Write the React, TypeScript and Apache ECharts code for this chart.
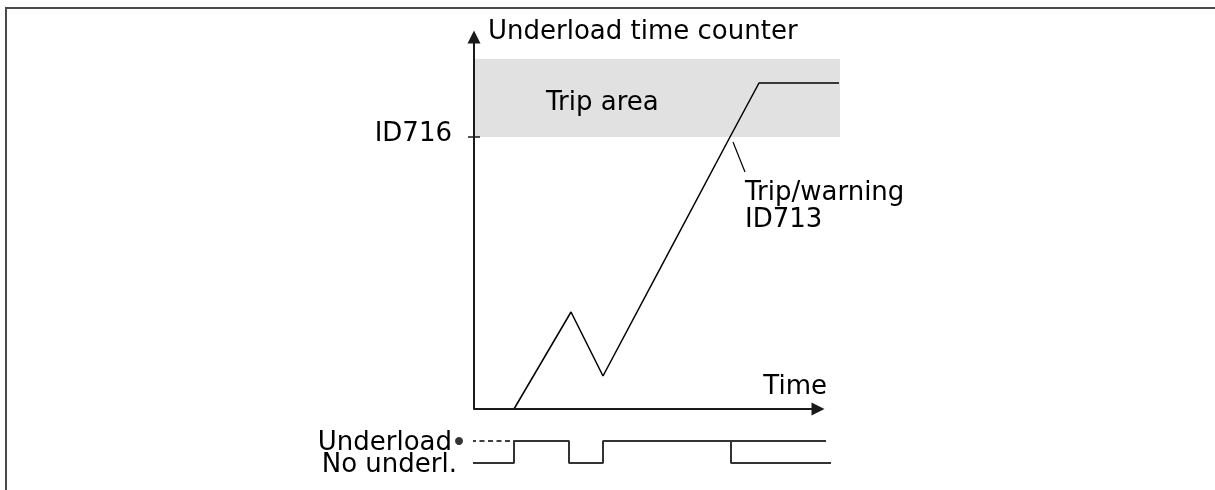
import React, { useEffect, useRef } from 'react';
import * as echarts from 'echarts';

const FONT = '"DejaVu Sans", Verdana, sans-serif';
const FS = 26;

// ---- Data (x: time units, y: counter units) ----
const counterTime = [40, 97, 129, 256, 285, 365];
const counterValue = [0, 97, 33, 272, 326, 326];

const tripLimit = 272; // ID716 level
const tripAreaTop = 350;
const tripTime = 257; // trip / warning moment
const xAxisEnd = 344; // time axis arrow

// Underload signal (1 = underload, 0 = no underload)
const signalTime = [-2, 40, 40, 95, 95, 129, 129, 352];
const signalState = [0, 0, 1, 1, 0, 0, 1, 1];
const afterTripTime = [257, 257, 357];
const afterTripState = [1, 0, 0];
const legendDashTime = [-3, 40];
const legendDashState = [1, 1];
const legendDot = [[-15, 1]];

const yTickLabels = ['ID716'];
const textLabels = {
  yName: 'Underload time counter',
  tripArea: 'Trip area',
  trip: 'Trip/warning\nID713',
  time: 'Time',
  underload: 'Underload',
  noUnderload: 'No underl.',
};

// ---- Axis ranges ----
const X_MAX = 366;
const Y_MAX = 372;

const zip = (a: number[], b: number[]) => a.map((v, i) => [v, b[i]]);

export default function App() {
  const ref = useRef<HTMLDivElement>(null);

  useEffect(() => {
    if (!ref.current) return;
    const chart = echarts.init(ref.current, undefined, { renderer: 'svg' });
    const axisColor = '#1a1a1a';
    const option: any = {
      animation: false,
      textStyle: { fontFamily: FONT },
      grid: [
        { left: 474, top: 37, width: X_MAX, height: Y_MAX },
        { left: 474, top: 441, width: X_MAX, height: 22 },
      ],
      xAxis: [
        { type: 'value', gridIndex: 0, min: 0, max: X_MAX, show: false },
        { type: 'value', gridIndex: 1, min: 0, max: X_MAX, show: false },
      ],
      yAxis: [
        {
          type: 'value', gridIndex: 0, min: 0, max: Y_MAX, position: 'left', z: 5,
          name: textLabels.yName, nameLocation: 'end', nameGap: 7,
          nameTextStyle: {
            fontSize: FS, color: '#000', align: 'left', verticalAlign: 'middle',
            padding: [0, 0, 0, 14], fontFamily: FONT,
          },
          axisLine: { show: true, symbol: ['none', 'triangle'], symbolSize: [13, 13], lineStyle: { color: axisColor, width: 2 } },
          axisTick: { show: true, length: 6, customValues: [tripLimit], lineStyle: { color: axisColor, width: 1.5 } },
          axisLabel: {
            show: true, customValues: [tripLimit], formatter: () => yTickLabels[0],
            margin: 22, fontSize: FS, color: '#000', fontFamily: FONT,
            verticalAlign: 'bottom', lineHeight: 10,
          },
          splitLine: { show: false },
        },
        {
          type: 'value', gridIndex: 0, min: 0, max: Y_MAX, position: 'left', offset: 0, z: 5,
          axisLine: { show: false },
          axisTick: { show: true, inside: true, length: 6, customValues: [tripLimit], lineStyle: { color: axisColor, width: 1.5 } },
          axisLabel: { show: false },
          splitLine: { show: false },
        },
        { type: 'value', gridIndex: 1, min: 0, max: 1, show: false },
      ],
      series: [
        {
          name: 'tripArea', type: 'line', xAxisIndex: 0, yAxisIndex: 0, data: [], z: 1, silent: true,
          markArea: {
            silent: true,
            itemStyle: { color: '#e1e1e1' },
            label: { show: true, position: 'insideLeft', distance: 72, offset: [0, 3], fontSize: FS, color: '#000', fontFamily: FONT },
            data: [[{ name: textLabels.tripArea, coord: [0, tripLimit] }, { coord: [X_MAX, tripAreaTop] }]],
          },
        },
        {
          name: 'timeAxis', type: 'line', xAxisIndex: 0, yAxisIndex: 0, data: [], z: 6, silent: true,
          markLine: {
            silent: true, symbol: ['none', 'triangle'], symbolSize: [13, 13],
            label: { show: false },
            lineStyle: { color: axisColor, width: 2, type: 'solid' },
            data: [[{ coord: [0, 0] }, { coord: [xAxisEnd, 0] }]],
          },
        },
        {
          name: 'tripMarker', type: 'line', xAxisIndex: 0, yAxisIndex: 0, data: [], z: 3, silent: true,
          markLine: {
            silent: true, symbol: ['none', 'none'],
            label: { show: false },
            lineStyle: { color: '#000', width: 1.5, type: [8, 5] },
            data: [[{ coord: [tripTime, tripLimit - 3] }, { coord: [tripTime, -4] }]],
          },
        },
        {
          name: 'callout', type: 'line', xAxisIndex: 0, yAxisIndex: 0, data: [], z: 3, silent: true,
          markLine: {
            silent: true, symbol: ['none', 'none'],
            label: { show: false },
            lineStyle: { color: '#000', width: 1.2, type: 'solid' },
            data: [[{ coord: [tripTime + 2, tripLimit - 5] }, { coord: [tripTime + 14, tripLimit - 35] }]],
          },
        },
        {
          name: 'counter', type: 'line', xAxisIndex: 0, yAxisIndex: 0, clip: false, z: 4,
          data: zip(counterTime, counterValue), symbol: 'none',
          lineStyle: { color: '#000', width: 1.5 },
        },
        {
          name: 'signal', type: 'line', xAxisIndex: 1, yAxisIndex: 2, clip: false,
          data: zip(signalTime, signalState), symbol: 'none',
          lineStyle: { color: '#333', width: 2 },
        },
        {
          name: 'afterTrip', type: 'line', xAxisIndex: 1, yAxisIndex: 2, clip: false,
          data: zip(afterTripTime, afterTripState), symbol: 'none',
          lineStyle: { color: '#333', width: 2 },
        },
        {
          name: 'legendDash', type: 'line', xAxisIndex: 1, yAxisIndex: 2, clip: false,
          data: zip(legendDashTime, legendDashState), symbol: 'none',
          lineStyle: { color: '#000', width: 1.5, type: [5, 3.5] },
        },
        {
          name: 'legendDot', type: 'scatter', xAxisIndex: 1, yAxisIndex: 2, clip: false,
          data: legendDot, symbolSize: 8, itemStyle: { color: '#000' },
        },
      ],
    };
    chart.setOption(option);

    const p = (g: number, pt: number[]) => chart.convertToPixel({ gridIndex: g } as any, pt) as number[];
    const txt = (id: string, pos: number[], text: string, align: string, extra: any = {}) => ({
      type: 'text', id, x: pos[0], y: pos[1], z: 10,
      style: { text, fontSize: FS, fontFamily: FONT, fill: '#000', align, verticalAlign: 'middle', ...extra },
    });
    chart.setOption({
      graphic: [
        { type: 'polyline', id: 'border', shape: { points: [[6, 700], [6, 8], [1400, 8]] }, style: { fill: 'none', stroke: '#4a4a4a', lineWidth: 2 }, silent: true },
        txt('trip1', p(0, [tripTime + 14, 218]), textLabels.trip.split('\n')[0], 'left', { lineHeight: 22 }),
        txt('trip2', p(0, [tripTime + 14, 191]), textLabels.trip.split('\n')[1], 'left', { lineHeight: 22 }),
        txt('time', p(0, [353, 24]), textLabels.time, 'right'),
        txt('under', p(1, [-22, 1]), textLabels.underload, 'right', { lineHeight: 20 }),
        txt('nounder', p(1, [-17, 0]), textLabels.noUnderload, 'right', { lineHeight: 20 }),
      ],
    });

    return () => chart.dispose();
  }, []);

  return <div ref={ref} style={{ position: 'fixed', left: 0, top: 0, width: 1215, height: 490 }} />;
}
